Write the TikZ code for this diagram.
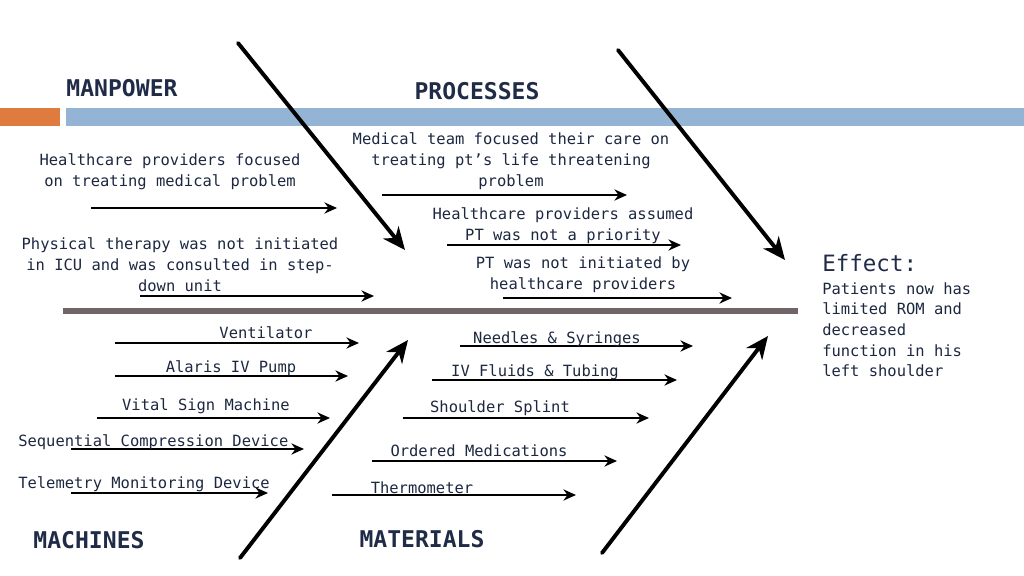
\documentclass[tikz,border=0pt]{standalone}
\usepackage{fontspec}
\setmainfont{DejaVu Sans Mono}
\usetikzlibrary{arrows.meta}
\definecolor{navy}{HTML}{1F2B47}
\definecolor{barblue}{HTML}{93B4D4}
\definecolor{barorange}{HTML}{E07B3F}
\definecolor{spinegray}{HTML}{6F6466}
\tikzset{
 bone/.style={line width=2.8pt, line cap=round,
  -{Stealth[length=16pt, width=14pt, inset=5pt]}},
 cause/.style={line width=1.3pt,
  -{Stealth[length=9pt, width=8pt, inset=3pt]}},
 causetext/.style={align=center, text=navy!90!black, inner sep=0pt,
  font=\fontsize{11}{14.9}\selectfont, yshift=-1.5pt},
 heading/.style={text=navy, inner sep=0pt,
  font=\fontsize{16.4}{18}\selectfont\bfseries}
}
\begin{document}
\begin{tikzpicture}[x=0.025cm, y=-0.025cm]
\useasboundingbox (0,0) rectangle (1024,576);

\fill [barorange] (0,108) rectangle (60,126);
\fill [barblue] (66,108) rectangle (1024,126);

\node [heading] (manpower) at (122,88) {MANPOWER};
\node [heading] (processes) at (477,91) {PROCESSES};
\node [heading] (machines) at (89,540) {MACHINES};
\node [heading] (materials) at (422,539) {MATERIALS};

\coordinate (spinestart) at (63,311);
\coordinate (spineend) at (798,311);
\draw [spinegray, line width=4.3pt] (spinestart) -- (spineend);

\foreach \n/\xa/\ya/\xb/\yb in {man/238/43/405/250, proc/618/50/785/260,
  mach/240/558/408/340, mat/602/553/768/336} {
 \coordinate (\n-top) at (\xa,\ya);
 \coordinate (\n-tip) at (\xb,\yb);
 \draw [bone] (\n-top) -- (\n-tip);
}

\foreach \n/\a/\b/\y in {m1/91/337/208, m2/140/374/296,
  p1/382/627/195, p2/447/681/245, p3/503/732/298,
  c1/115/359/343, c2/115/348/376, c3/97/330/418, c4/71/304/449, c5/71/268/493,
  t1/460/693/346, t2/432/677/380, t3/403/649/418, t4/372/617/461, t5/332/576/495} {
 \coordinate (\n-a) at (\a,\y);
 \coordinate (\n-b) at (\b,\y);
 \draw [cause] (\n-a) -- (\n-b);
}

\node [causetext] (m1t) at (170,170) {Healthcare providers focused\\on treating medical problem};
\node [causetext] (m2t) at (180,263) {Physical therapy was not initiated\\in ICU and was consulted in step-\\down unit};
\node [causetext] (p1t) at (511,159) {Medical team focused their care on\\treating pt’s life threatening\\problem};
\node [causetext] (p2t) at (563,224) {Healthcare providers assumed\\PT was not a priority};
\node [causetext] (p3t) at (583,273) {PT was not initiated by\\healthcare providers};

\node [causetext] (c1t) at (266,331) {Ventilator};
\node [causetext] (c2t) at (231,366) {Alaris IV Pump};
\node [causetext] (c3t) at (206,404) {Vital Sign Machine};
\node [causetext, anchor=west] (c4t) at (18,440) {Sequential Compression Device};
\node [causetext, anchor=west] (c5t) at (18,482) {Telemetry Monitoring Device};

\node [causetext] (t1t) at (557,337) {Needles \& Syringes};
\node [causetext] (t2t) at (535,370) {IV Fluids \& Tubing};
\node [causetext] (t3t) at (500,406) {Shoulder Splint};
\node [causetext] (t4t) at (479,449) {Ordered Medications};
\node [causetext] (t5t) at (422,486) {Thermometer};

\node [text=navy, inner sep=0pt, anchor=west, font=\fontsize{16}{18}\selectfont]
 (effect) at (822,263) {Effect:};
\node [causetext, align=left, anchor=north west, font=\fontsize{11}{14.7}\selectfont]
 (effecttext) at (822,280) {Patients now has\\limited ROM and\\decreased\\function in his\\left shoulder};
\end{tikzpicture}
\end{document}
